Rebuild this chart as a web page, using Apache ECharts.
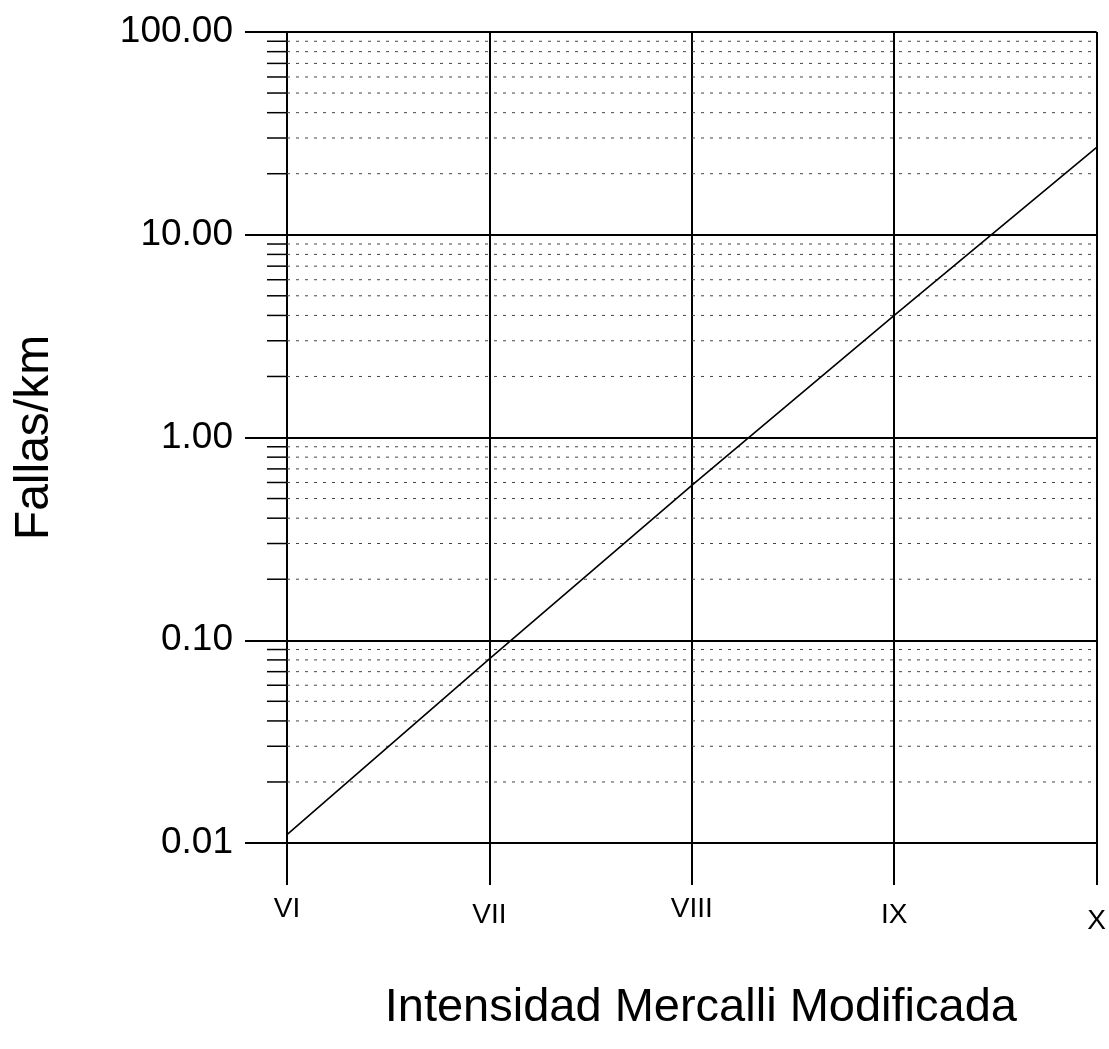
<!DOCTYPE html>
<html>
<head>
<meta charset="utf-8">
<title>Fallas/km vs Intensidad Mercalli Modificada</title>
<script src="https://cdn.jsdelivr.net/npm/echarts@6/dist/echarts.min.js"></script>
<style>
  html, body { margin: 0; padding: 0; background: #fff; }
  #chart { width: 1109px; height: 1049px; }
</style>
</head>
<body>
<div id="chart"></div>
<script>
// Modified Mercalli intensity classes
const intensities = ['VI', 'VII', 'VIII', 'IX', 'X'];
// Failures per km at each intensity
const fallasPorKm = [0.011, 0.081, 0.58, 4.0, 27];
// Labelled decades of the log axis
const yTicks = [0.01, 0.1, 1, 10, 100];
// Intermediate log-scale lines (2..9 of each decade)
const minorLines = [
  0.02, 0.03, 0.04, 0.05, 0.06, 0.07, 0.08, 0.09,
  0.2, 0.3, 0.4, 0.5, 0.6, 0.7, 0.8, 0.9,
  2, 3, 4, 5, 6, 7, 8, 9,
  20, 30, 40, 50, 60, 70, 80, 90
];

const FONT = '"Liberation Sans", Arial, Helvetica, sans-serif';
const chart = echarts.init(document.getElementById('chart'));

// intensity labels sit alternately a little higher / lower
const labelRich = {
  hi: { fontFamily: FONT, fontSize: 28, color: '#000', padding: [0, 0, 14, 0] },
  lo: { fontFamily: FONT, fontSize: 28, color: '#000', padding: [6, 0, 0, 0] },
  lo2: { fontFamily: FONT, fontSize: 28, color: '#000', padding: [12, 0, 0, 0] }
};

chart.setOption({
  backgroundColor: '#ffffff',
  animation: false,
  grid: { left: 287, right: 10, top: 32, bottom: 206, containLabel: false },
  xAxis: {
    type: 'category',
    data: intensities,
    boundaryGap: false,
    name: 'Intensidad Mercalli Modificada',
    nameLocation: 'middle',
    nameGap: 142,
    nameTextStyle: { fontFamily: FONT, fontSize: 47, color: '#000', padding: [0, 0, 0, 18] },
    axisLine: { show: true, lineStyle: { color: '#000', width: 2 } },
    axisTick: { show: true, inside: false, length: 42, alignWithLabel: true,
                lineStyle: { color: '#000', width: 2 } },
    axisLabel: {
      margin: 52, fontFamily: FONT, fontSize: 28, color: '#000',
      formatter: function (v, i) {
        const key = i === intensities.length - 1 ? 'lo2' : (i % 2 === 0 ? 'hi' : 'lo');
        return '{' + key + '|' + v + '}';
      },
      rich: labelRich
    },
    splitLine: { show: true, lineStyle: { color: '#000', width: 2 } }
  },
  yAxis: {
    type: 'log',
    logBase: 10,
    min: yTicks[0],
    max: yTicks[yTicks.length - 1],
    name: 'Fallas/km',
    nameLocation: 'middle',
    nameRotate: 90,
    nameGap: 228,
    nameTextStyle: { fontFamily: FONT, fontSize: 48, color: '#000' },
    axisLine: { show: true, lineStyle: { color: '#000', width: 2 } },
    axisTick: { show: true, inside: false, length: 42, lineStyle: { color: '#000', width: 2 } },
    axisLabel: {
      margin: 54, fontFamily: FONT, fontSize: 37, color: '#000',
      formatter: v => Number(v).toFixed(2)
    },
    splitLine: { show: true, lineStyle: { color: '#000', width: 2 } }
  },
  series: [
    {
      // minor decade lines: short solid tick left of the axis, dotted across the plot
      type: 'custom',
      clip: false,
      silent: true,
      z: 1,
      data: minorLines.map(v => [0, v]),
      encode: { x: 0, y: 1 },
      renderItem: function (params, api) {
        const v = api.value(1);
        const p0 = api.coord([0, v]);
        const p1 = api.coord([intensities.length - 1, v]);
        return {
          type: 'group',
          children: [
            { type: 'line', shape: { x1: p0[0] - 20, y1: p0[1], x2: p0[0], y2: p0[1] },
              style: { stroke: '#000', lineWidth: 1.5 } },
            { type: 'line', shape: { x1: p0[0], y1: p0[1], x2: p1[0], y2: p1[1] },
              style: { stroke: '#444', lineWidth: 1, lineDash: [3, 6] } }
          ]
        };
      }
    },
    {
      type: 'line',
      data: fallasPorKm,
      symbol: 'none',
      z: 5,
      lineStyle: { color: '#000', width: 1.6 }
    }
  ]
});
</script>
</body>
</html>
